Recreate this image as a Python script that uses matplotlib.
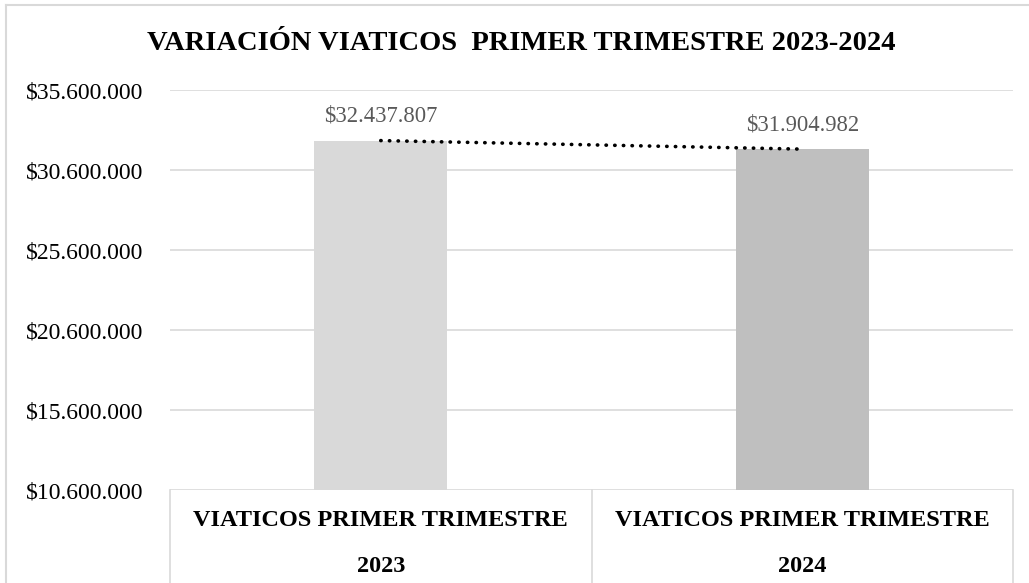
import numpy as np
import matplotlib
matplotlib.use("Agg")
from matplotlib import pyplot as plt
from matplotlib.lines import Line2D
import matplotlib.ticker as mticker

plt.rcParams['font.family'] = ['Liberation Serif', 'DejaVu Serif']

# data
categories = ["VIATICOS PRIMER TRIMESTRE\n2023", "VIATICOS PRIMER TRIMESTRE\n2024"]
values = [32437807, 31904982]
bar_colors = ["#D9D9D9", "#BFBFBF"]
title = "VARIACIÓN VIATICOS  PRIMER TRIMESTRE 2023-2024"
y_min, y_max, y_step = 10600000, 35600000, 5000000

W, H = 1029, 583
fig = plt.figure(figsize=(W / 100, H / 100), dpi=100)
ax = fig.add_axes([170 / W, 1 - 490 / H, 843 / W, 400 / H])

x = np.arange(len(values))
ax.bar(x, values, width=0.316, color=bar_colors, zorder=2)
ax.set_xlim(-0.5, len(values) - 0.5)
ax.set_ylim(y_min, y_max)

def money(v):
    return "$" + f"{int(round(v)):,}".replace(",", ".")

ax.yaxis.set_major_locator(mticker.FixedLocator(np.arange(y_min, y_max + 1, y_step)))
ax.yaxis.set_major_formatter(mticker.FuncFormatter(lambda v, p: money(v)))
ax.tick_params(axis='y', length=0, pad=19, labelsize=17, labelcolor="#000000")
ax.grid(axis='y', color="#D9D9D9", linewidth=1.2, zorder=0)
for s in ax.spines.values():
    s.set_visible(False)

# data labels
for xi, v in zip(x, values):
    ax.annotate(money(v), (xi, v), xytext=(0, 17.5), textcoords='offset points',
                ha='center', va='center', fontsize=16.3, color="#595959")

# linear trendline
k, b = np.polyfit(x, values, 1)
ax.plot(x, k * x + b, color="black", linewidth=2.6,
        linestyle=(0, (0.1, 2.3)), dash_capstyle='round', zorder=3)

# category axis as boxed table
ax.set_xticks(x)
ax.set_xticklabels([])
for xi, cat in zip(x, categories):
    top, bottom = cat.split("\n")
    ax.text(xi, -31 / 400, top, transform=ax.get_xaxis_transform(),
            ha='center', va='center', fontsize=17.5, fontweight='bold')
    ax.text(xi, -77 / 400, bottom, transform=ax.get_xaxis_transform(),
            ha='center', va='center', fontsize=17.5, fontweight='bold')
ax.tick_params(axis='x', length=0)
for xb in [0, 0.5, 1]:
    ax.add_line(Line2D([xb, xb], [0, -0.3], transform=ax.transAxes,
                       color="#D9D9D9", linewidth=1.2, clip_on=False))

# chart border
fig.add_artist(Line2D([6 / W, 6 / W], [-0.1, 1 - 5 / H], color="#D9D9D9", linewidth=1.5))
fig.add_artist(Line2D([6 / W, 1.1], [1 - 5 / H, 1 - 5 / H], color="#D9D9D9", linewidth=1.5))

fig.text(521 / W, 1 - 44 / H, title, ha='center', va='center',
         fontsize=20.5, fontweight='bold')

fig.savefig("out.png", dpi=100)
